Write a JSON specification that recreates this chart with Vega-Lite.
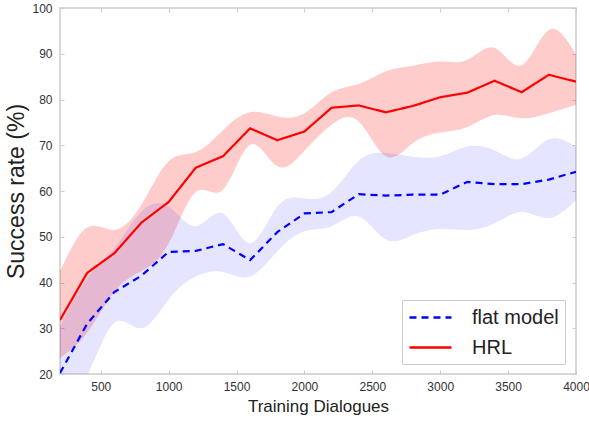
{
  "$schema": "https://vega.github.io/schema/vega-lite/v6.json",
  "width": 516,
  "height": 366,
  "autosize": {"type": "none"},
  "padding": {"left": 60, "top": 8, "right": 13, "bottom": 47},
  "background": "white",
  "config": {
    "font": "Liberation Sans",
    "view": {"stroke": "#cccccc", "strokeWidth": 1.5},
    "axis": {"domain": false, "grid": false, "labelFlush": false, "labelFont": "Liberation Sans", "labelFontSize": 12, "labelColor": "#333333", "tickColor": "#cccccc", "titleFont": "Liberation Sans", "titleFontWeight": "normal", "titleColor": "#222222"},
    "legend": {"title": null, "orient": "none", "legendX": 342, "legendY": 292, "padding": 6, "strokeColor": "#cccccc", "fillColor": "white", "symbolType": "M-1,0H3.2", "symbolSize": 400, "symbolStrokeWidth": 2.5, "symbolOpacity": 1, "labelFont": "Liberation Sans", "labelFontSize": 20, "labelColor": "#222222", "labelOffset": 41, "rowPadding": 8}
  },
  "data": {"values": [
    {"x": 200, "series": "HRL", "mean": 31.8, "lo": 23.5, "hi": 42.5},
    {"x": 400, "series": "HRL", "mean": 42.1, "lo": 29, "hi": 52},
    {"x": 600, "series": "HRL", "mean": 46.4, "lo": 38, "hi": 51.5},
    {"x": 800, "series": "HRL", "mean": 53.1, "lo": 42.5, "hi": 57},
    {"x": 1000, "series": "HRL", "mean": 57.6, "lo": 48.5, "hi": 66.5},
    {"x": 1200, "series": "HRL", "mean": 65.1, "lo": 59.8, "hi": 68.5},
    {"x": 1400, "series": "HRL", "mean": 67.6, "lo": 60.3, "hi": 73.3},
    {"x": 1600, "series": "HRL", "mean": 73.7, "lo": 70.1, "hi": 77.2},
    {"x": 1800, "series": "HRL", "mean": 71.1, "lo": 65.4, "hi": 76.3},
    {"x": 2000, "series": "HRL", "mean": 73.0, "lo": 68.8, "hi": 77.0},
    {"x": 2200, "series": "HRL", "mean": 78.2, "lo": 74.5, "hi": 81.6},
    {"x": 2400, "series": "HRL", "mean": 78.7, "lo": 75.2, "hi": 83.4},
    {"x": 2600, "series": "HRL", "mean": 77.2, "lo": 67.6, "hi": 86.2},
    {"x": 2800, "series": "HRL", "mean": 78.6, "lo": 70.5, "hi": 87.4},
    {"x": 3000, "series": "HRL", "mean": 80.5, "lo": 72.8, "hi": 88.3},
    {"x": 3200, "series": "HRL", "mean": 81.5, "lo": 74.0, "hi": 88.7},
    {"x": 3400, "series": "HRL", "mean": 84.1, "lo": 76.6, "hi": 91.3},
    {"x": 3600, "series": "HRL", "mean": 81.6, "lo": 75.9, "hi": 87.5},
    {"x": 3800, "series": "HRL", "mean": 85.4, "lo": 77.0, "hi": 95.2},
    {"x": 4000, "series": "HRL", "mean": 83.9, "lo": 78.8, "hi": 89.8},
    {"x": 200, "series": "flat model", "mean": 20.2, "lo": 12, "hi": 30.3},
    {"x": 400, "series": "flat model", "mean": 31.0, "lo": 19.5, "hi": 40.9},
    {"x": 600, "series": "flat model", "mean": 37.9, "lo": 31.2, "hi": 47.5},
    {"x": 800, "series": "flat model", "mean": 41.5, "lo": 30.0, "hi": 55.5},
    {"x": 1000, "series": "flat model", "mean": 46.7, "lo": 36.3, "hi": 56.6},
    {"x": 1200, "series": "flat model", "mean": 46.9, "lo": 41.3, "hi": 52.3},
    {"x": 1400, "series": "flat model", "mean": 48.4, "lo": 42.3, "hi": 55.1},
    {"x": 1600, "series": "flat model", "mean": 44.9, "lo": 41.3, "hi": 48.6},
    {"x": 1800, "series": "flat model", "mean": 51.0, "lo": 46.8, "hi": 56.6},
    {"x": 2000, "series": "flat model", "mean": 55.1, "lo": 51.2, "hi": 58.4},
    {"x": 2200, "series": "flat model", "mean": 55.4, "lo": 52.3, "hi": 59.8},
    {"x": 2400, "series": "flat model", "mean": 59.3, "lo": 54.4, "hi": 66.6},
    {"x": 2600, "series": "flat model", "mean": 59.0, "lo": 49.4, "hi": 68.3},
    {"x": 2800, "series": "flat model", "mean": 59.2, "lo": 50.4, "hi": 67.5},
    {"x": 3000, "series": "flat model", "mean": 59.2, "lo": 51.7, "hi": 67.6},
    {"x": 3200, "series": "flat model", "mean": 62.0, "lo": 51.5, "hi": 69.7},
    {"x": 3400, "series": "flat model", "mean": 61.5, "lo": 52.9, "hi": 68.9},
    {"x": 3600, "series": "flat model", "mean": 61.5, "lo": 55.4, "hi": 67.1},
    {"x": 3800, "series": "flat model", "mean": 62.5, "lo": 54.1, "hi": 71.3},
    {"x": 4000, "series": "flat model", "mean": 64.2, "lo": 58.0, "hi": 69.7}
  ]},
  "resolve": {"axis": {"x": "independent", "y": "independent"}},
  "layer": [
    {
      "mark": {"type": "area", "interpolate": "natural", "clip": true},
      "encoding": {
        "x": {"field": "x", "type": "quantitative", "scale": {"domain": [200, 4000], "nice": false, "zero": false}, "axis": {"orient": "top", "labels": false, "title": null, "values": [500, 1000, 1500, 2000, 2500, 3000, 3500, 4000], "tickSize": -4}},
        "y": {"field": "lo", "type": "quantitative", "scale": {"domain": [20, 100], "nice": false, "zero": false}, "axis": {"orient": "right", "labels": false, "title": null, "values": [20, 30, 40, 50, 60, 70, 80, 90, 100], "tickSize": -4}},
        "y2": {"field": "hi"},
        "color": {"field": "series", "type": "nominal", "scale": {"domain": ["flat model", "HRL"], "range": ["#0000ff", "#ff0000"]}},
        "opacity": {"condition": {"test": "datum.series === 'HRL'", "value": 0.2}, "value": 0.1}
      }
    },
    {
      "mark": {"type": "line", "strokeWidth": 2.2, "clip": true},
      "encoding": {
        "x": {"field": "x", "type": "quantitative", "scale": {"domain": [200, 4000], "nice": false, "zero": false}, "axis": {"orient": "bottom", "title": "Training Dialogues", "titleFontSize": 17, "titlePadding": 6, "format": "d", "values": [500, 1000, 1500, 2000, 2500, 3000, 3500, 4000], "tickSize": -4, "labelPadding": 11}},
        "y": {"field": "mean", "type": "quantitative", "scale": {"domain": [20, 100], "nice": false, "zero": false}, "axis": {"orient": "left", "title": "Success rate (%)", "titleFontSize": 23, "titlePadding": 3, "values": [20, 30, 40, 50, 60, 70, 80, 90, 100], "tickSize": -4, "labelPadding": 12}},
        "color": {"field": "series", "type": "nominal", "scale": {"domain": ["flat model", "HRL"], "range": ["#0000ff", "#ff0000"]}, "legend": {"symbolOpacity": 1}},
        "strokeDash": {"field": "series", "type": "nominal", "scale": {"domain": ["flat model", "HRL"], "range": [[7, 5], [1, 0]]}}
      }
    }
  ]
}
